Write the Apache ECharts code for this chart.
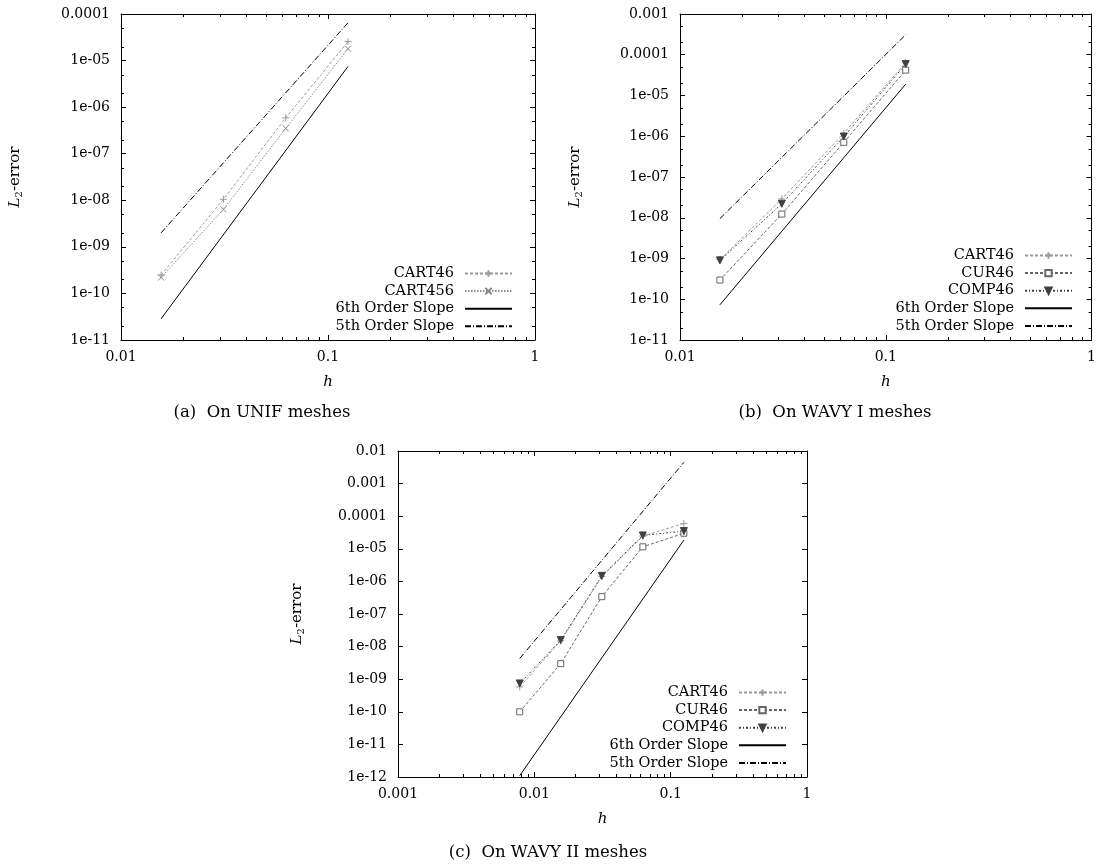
<!DOCTYPE html>
<html>
<head>
<meta charset="utf-8">
<script src="https://cdn.jsdelivr.net/npm/echarts@6/dist/echarts.min.js"></script>
<style>
html,body{margin:0;padding:0;background:#fff;}
#chart{width:1099px;height:867px;}
</style>
</head>
<body>
<div id="chart"></div>
<script>
// ---------- data ----------
const slopeH_AB = [0.015625, 0.125];
const slopeH_C = [0.0078125, 0.125];

// (a) UNIF
const hA = [0.015625, 0.03125, 0.0625, 0.125];
const cart46A = [2.5e-10, 1.05e-8, 5.9e-7, 2.55e-5];
const cart456A = [2.2e-10, 6.4e-9, 3.5e-7, 1.8e-5];
const slope6A = [2.86e-11, 7.5e-6];
const slope5A = [2.0e-9, 6.5e-5];

// (b) WAVY I
const hB = [0.015625, 0.03125, 0.0625, 0.125];
const cart46B = [9.4e-10, 2.9e-8, 1.18e-6, 6.4e-5];
const cur46B = [2.96e-10, 1.23e-8, 7.1e-7, 4.2e-5];
const comp46B = [9.0e-10, 2.2e-8, 9.8e-7, 5.9e-5];
const slope6B = [7.3e-11, 1.9e-5];
const slope5B = [9.5e-9, 3.1e-4];

// (c) WAVY II
const hC = [0.0078125, 0.015625, 0.03125, 0.0625, 0.125];
const cart46C = [5.8e-10, 1.5e-8, 1.4e-6, 2.45e-5, 6.0e-5];
const cur46C = [1.0e-10, 3.0e-9, 3.4e-7, 1.15e-5, 3.0e-5];
const comp46C = [7.4e-10, 1.58e-8, 1.48e-6, 2.57e-5, 3.5e-5];
const slope6C = [1.1e-12, 1.85e-5];
const slope5C = [4.3e-9, 4.5e-3];

// axis ranges
const xRangeA = [0.01, 1], yRangeA = [1e-11, 1e-4];
const xRangeB = [0.01, 1], yRangeB = [1e-11, 1e-3];
const xRangeC = [0.001, 1], yRangeC = [1e-12, 1e-2];

const legendA = ['CART46', 'CART456', '6th Order Slope', '5th Order Slope'];
const legendBC = ['CART46', 'CUR46', 'COMP46', '6th Order Slope', '5th Order Slope'];
const captions = ['(a)  On UNIF meshes', '(b)  On WAVY I meshes', '(c)  On WAVY II meshes'];

const xMinorMult = [2, 3, 4, 5, 6, 7, 8, 9];
const yMinorMult = [2, 5];

// ---------- helpers ----------
const SERIF = 'DejaVu Serif';
function zip(xs, ys) { return xs.map((x, i) => [x, ys[i]]); }
function fmt(v) {
  const e = Math.round(Math.log10(v));
  if (e >= -4) return e >= 0 ? String(Math.pow(10, e)) : (Math.pow(10, e)).toFixed(-e);
  const n = -e;
  return '1e-' + (n < 10 ? '0' + n : String(n));
}
function minorValues(range, mults) {
  const out = [];
  const e0 = Math.round(Math.log10(range[0])), e1 = Math.round(Math.log10(range[1]));
  for (let e = e0; e < e1; e++) mults.forEach(m => out.push(m * Math.pow(10, e)));
  return out;
}

const grids = [
  {left: 121, top: 14, width: 414, height: 326},
  {left: 680, top: 14, width: 414, height: 326},
  {left: 398, top: 451, width: 409, height: 326}
];
const ranges = [[xRangeA, yRangeA], [xRangeB, yRangeB], [xRangeC, yRangeC]];
const nameGaps = [97, 96, 92];

const xAxes = [], yAxes = [];
ranges.forEach((r, i) => {
  const [xr, yr] = r;
  const xDec = Math.round(Math.log10(xr[1] / xr[0]));
  const yDec = Math.round(Math.log10(yr[1] / yr[0]));
  const common = {
    type: 'log', logBase: 10, gridIndex: i,
    axisLine: {show: true, onZero: false, lineStyle: {color: '#000', width: 1}},
    axisTick: {show: true, inside: true, length: 5, lineStyle: {color: '#000', width: 1}},
    splitLine: {show: false}, minorTick: {show: false}
  };
  xAxes.push(Object.assign({}, common, {
    position: 'bottom', min: xr[0], max: xr[1], interval: 1, splitNumber: xDec,
    axisLabel: {formatter: fmt, fontFamily: SERIF, fontSize: 14, color: '#000', margin: 10},
    name: 'h', nameLocation: 'middle', nameGap: 35,
    nameTextStyle: {fontFamily: SERIF, fontStyle: 'italic', fontSize: 15, color: '#000'}
  }));
  xAxes.push(Object.assign({}, common, {
    position: 'top', min: xr[0], max: xr[1], interval: 1, splitNumber: xDec,
    axisLabel: {show: false}
  }));
  yAxes.push(Object.assign({}, common, {
    position: 'left', min: yr[0], max: yr[1], interval: 1, splitNumber: yDec,
    axisLabel: {formatter: fmt, fontFamily: SERIF, fontSize: 14, color: '#000', margin: 11},
    name: '{i|L}{s|2}{n|-error}', nameLocation: 'middle', nameRotate: 90, nameGap: nameGaps[i],
    nameTextStyle: {
      color: '#000',
      rich: {
        i: {fontFamily: SERIF, fontStyle: 'italic', fontSize: 15, color: '#000'},
        s: {fontFamily: SERIF, fontSize: 10, color: '#000', padding: [7, 0, 0, 0]},
        n: {fontFamily: SERIF, fontSize: 15, color: '#000'}
      }
    }
  }));
  yAxes.push(Object.assign({}, common, {
    position: 'right', min: yr[0], max: yr[1], interval: 1, splitNumber: yDec,
    axisLabel: {show: false}
  }));
});

// ---------- styles ----------
const PLUS = 'path://M5,0L5,10M0,5L10,5';
const CROSS = 'path://M0,0L10,10M10,0L0,10';
const styles = {
  'CART46': {color: '#9a9a9a', type: [3, 2], symbol: PLUS, size: 7, fill: '#9a9a9a'},
  'CART456': {color: '#8a8a8a', type: [1.5, 1.5], symbol: CROSS, size: 6, fill: '#8a8a8a'},
  'CUR46': {color: '#666666', type: [3, 2], symbol: 'rect', size: 6, fill: '#ffffff'},
  'COMP46': {color: '#404040', type: [2, 2, 1, 2], symbol: 'triangle', size: 7, rotate: 180, fill: '#404040'},
  '6th Order Slope': {color: '#000', type: 'solid', symbol: 'none', size: 0},
  '5th Order Slope': {color: '#000', type: [6, 2, 1, 2], symbol: 'none', size: 0}
};
function lineSeries(name, gi, xs, ys) {
  const s = styles[name];
  return {
    type: 'line', name: name, xAxisIndex: gi * 2, yAxisIndex: gi * 2,
    data: zip(xs, ys), showSymbol: s.symbol !== 'none', symbol: s.symbol,
    symbolSize: s.size, symbolRotate: s.rotate || 0, animation: false,
    lineStyle: {color: s.color, width: 1, type: s.type},
    itemStyle: {color: s.fill || s.color, borderColor: s.color, borderWidth: 1},
    emphasis: {disabled: true}, z: name.indexOf('Slope') >= 0 ? 3 : 2
  };
}
function tickSeries(gi, values, dim, crossVal) {
  return {
    type: 'custom', xAxisIndex: gi * 2, yAxisIndex: gi * 2, silent: true, animation: false,
    data: values.map(v => dim === 'x' ? [v, crossVal] : [crossVal, v]),
    renderItem: function (params, api) {
      const cs = params.coordSys;
      const p = api.coord([api.value(0), api.value(1)]);
      const len = 3;
      const st = {stroke: '#000', lineWidth: 1};
      if (dim === 'x') {
        const x = Math.round(p[0]) + 0.5;
        return {type: 'group', children: [
          {type: 'line', shape: {x1: x, y1: cs.y + cs.height, x2: x, y2: cs.y + cs.height - len}, style: st},
          {type: 'line', shape: {x1: x, y1: cs.y, x2: x, y2: cs.y + len}, style: st}
        ]};
      } else {
        const y = Math.round(p[1]) + 0.5;
        return {type: 'group', children: [
          {type: 'line', shape: {x1: cs.x, y1: y, x2: cs.x + len, y2: y}, style: st},
          {type: 'line', shape: {x1: cs.x + cs.width, y1: y, x2: cs.x + cs.width - len, y2: y}, style: st}
        ]};
      }
    }
  };
}

const series = [
  lineSeries('CART46', 0, hA, cart46A),
  lineSeries('CART456', 0, hA, cart456A),
  lineSeries('6th Order Slope', 0, slopeH_AB, slope6A),
  lineSeries('5th Order Slope', 0, slopeH_AB, slope5A),
  lineSeries('CART46', 1, hB, cart46B),
  lineSeries('CUR46', 1, hB, cur46B),
  lineSeries('COMP46', 1, hB, comp46B),
  lineSeries('6th Order Slope', 1, slopeH_AB, slope6B),
  lineSeries('5th Order Slope', 1, slopeH_AB, slope5B),
  lineSeries('CART46', 2, hC, cart46C),
  lineSeries('CUR46', 2, hC, cur46C),
  lineSeries('COMP46', 2, hC, comp46C),
  lineSeries('6th Order Slope', 2, slopeH_C, slope6C),
  lineSeries('5th Order Slope', 2, slopeH_C, slope5C),
  tickSeries(0, minorValues(xRangeA, xMinorMult), 'x', yRangeA[0]),
  tickSeries(0, minorValues(yRangeA, yMinorMult), 'y', xRangeA[0]),
  tickSeries(1, minorValues(xRangeB, xMinorMult), 'x', yRangeB[0]),
  tickSeries(1, minorValues(yRangeB, yMinorMult), 'y', xRangeB[0]),
  tickSeries(2, minorValues(xRangeC, xMinorMult), 'x', yRangeC[0])
];

function legend(data, right, top) {
  return {
    data: data.map(n => n.indexOf('Slope') >= 0
      ? {name: n, itemStyle: {opacity: 0}}
      : {name: n}),
    orient: 'vertical', align: 'right', right: right, top: top, padding: 0,
    itemWidth: 47, itemHeight: 8, itemGap: 2.6, selectedMode: false,
    textStyle: {fontFamily: SERIF, fontSize: 14.5, lineHeight: 14, color: '#000', padding: [0, 6, 0, 0]},
    inactiveColor: '#000'
  };
}

const captionStyle = {font: '16.5px "DejaVu Serif"', fill: '#000', textAlign: 'center', textVerticalAlign: 'middle'};
const option = {
  backgroundColor: '#fff',
  animation: false,
  grid: grids,
  xAxis: xAxes,
  yAxis: yAxes,
  legend: [legend(legendA, 586, 266), legend(legendBC, 26, 248), legend(legendBC, 312, 685)],
  graphic: [
    {type: 'text', x: 262, y: 413, style: Object.assign({text: captions[0]}, captionStyle)},
    {type: 'text', x: 835, y: 413, style: Object.assign({text: captions[1]}, captionStyle)},
    {type: 'text', x: 548, y: 853, style: Object.assign({text: captions[2]}, captionStyle)}
  ],
  series: series
};

const chart = echarts.init(document.getElementById('chart'), null, {renderer: 'canvas'});
chart.setOption(option);
</script>
</body>
</html>
